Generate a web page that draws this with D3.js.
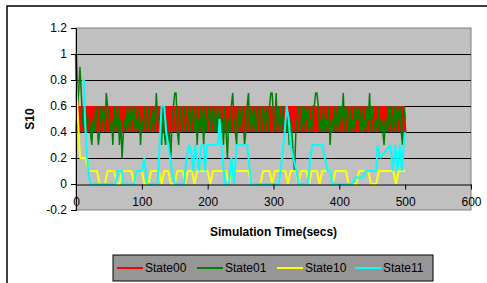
<!DOCTYPE html>
<html>
<head>
<meta charset="utf-8">
<script src="https://cdn.jsdelivr.net/npm/d3@7"></script>
<style>
  body { margin: 0; background: #fff; }
  svg { font-family: "Liberation Sans", Arial, sans-serif; }
</style>
</head>
<body>
<div id="chart"></div>
<script>
// series names + colours
const seriesNames = ['State00', 'State01', 'State10', 'State11'];
const seriesColors = ['#ff0000', '#008000', '#ffff00', '#00ffff'];
const seriesWidths = [2.5, 1.5, 2, 2];

// axis ticks
const xTicks = [0, 100, 200, 300, 400, 500, 600];
const yTicks = [-0.2, 0, 0.2, 0.4, 0.6, 0.8, 1, 1.2];

// State00 and State01 sampled every 2 secs, one char per sample (tenths, 'a' = 1.0)
const state00 = 'a6' +
  '4646464646464646464646464646464646464646464646464646464646464646464646464646464646464646464646464646' +
  '4646464646464646464646464646464646464646464646464646464646464646464646464646464646464646464646464646' +
  '4646464646464646464646464646464646464646464646464';
const state01 =
  '4679754645' + '5435465346' + '5647654536' + '4563524546' + '5465645463' +
  '5465465456' + '4755436435' + '3425677436' + '5465456465' + '4635465364' +
  '5646546456' + '4536425467' + '5436456534' + '6746546456' + '4564654677' +
  '5474654645' + '4535421456' + '5464656454' + '6677645464' + '5463546456' +
  '4657465464' + '5465654645' + '4657465454' + '6454354646' + '5464656436' + '5';

// State10 and State11 as [time, value] vertices
const state10 = [
  [0, .8], [2, .6], [6, .2], [14, .2], [20, .1],
  [32, .1], [36, 0], [44, 0], [48, .1],
  [58, .1], [62, 0], [66, 0], [70, .1],
  [84, .1], [88, 0], [92, .1],
  [100, .1], [104, 0], [110, 0], [114, .1],
  [126, .1], [130, 0], [134, .1],
  [140, .1], [144, 0], [150, 0], [154, .1],
  [162, .1], [166, 0], [170, .1],
  [176, .1], [180, 0], [184, .1],
  [200, .1], [204, 0], [208, .1],
  [228, .1], [232, 0], [236, .1],
  [262, .1], [266, 0], [280, 0], [284, .1],
  [294, .1], [298, 0], [302, .1],
  [318, .1], [322, 0], [326, .1],
  [334, .1], [338, 0], [342, .1],
  [350, .1], [354, 0], [358, .1],
  [366, .1], [370, 0], [374, .1],
  [386, .1], [390, 0], [394, .1],
  [410, .1], [414, 0], [426, 0], [430, .1],
  [444, .1], [448, 0], [456, 0], [460, .1],
  [482, .1], [486, 0], [490, .1], [500, .1]
];
const state11 = [
  [9, .8], [12, .8], [14, .45], [17, .2], [20, .05], [22, 0],
  [60, 0], [64, .1], [70, .1], [72, 0],
  [88, 0], [92, .1], [100, .1], [104, .2], [108, 0],
  [124, 0], [127, .3], [130, .6], [134, .6], [137, .4], [140, .3], [143, .2], [146, .1], [150, 0],
  [164, 0], [168, .2], [172, .3], [175, .25], [178, .1], [181, .3], [184, .2], [187, .1],
  [190, .3], [194, .3], [196, .1], [199, .3], [216, .3], [218, .5], [221, .3], [226, 0],
  [232, 0], [236, .2], [240, 0], [244, .3], [260, .3], [266, 0],
  [308, 0], [313, .2], [317, .4], [320, .6], [323, .5], [326, .3], [330, .2], [335, .1], [338, 0],
  [352, 0], [356, .2], [359, .3], [370, .3], [374, .3], [378, .2], [382, .1], [386, .1], [390, 0],
  [420, 0], [424, .05], [436, .05], [440, .1], [452, .1], [456, .1], [458, .3], [462, .2],
  [470, .25], [478, .3], [481, .1], [485, .3], [488, .1], [492, .3], [495, .1], [498, .3], [500, .4]
];

const config = {
  width: 487,
  height: 283,
  plot: { left: 76, right: 471, top: 28, bottom: 210 }
};

function fromChars(str) {
  return Array.from(str).map((c, i) => [i * 2, c === 'a' ? 1 : +c / 10]);
}

const allSeries = [fromChars(state00), fromChars(state01), state10, state11];

const svg = d3.select('#chart').append('svg')
  .attr('width', config.width)
  .attr('height', config.height);

// outer frame
svg.append('rect')
  .attr('x', 7).attr('y', 6)
  .attr('width', 520).attr('height', 320)
  .attr('fill', '#fff')
  .attr('stroke', '#000')
  .attr('stroke-width', 1.5);

const p = config.plot;
const x = d3.scaleLinear().domain([0, 600]).range([p.left, p.right]);
const y = d3.scaleLinear().domain([-0.2, 1.2]).range([p.bottom, p.top]);

// plot area
svg.append('rect')
  .attr('x', p.left).attr('y', p.top)
  .attr('width', p.right - p.left).attr('height', p.bottom - p.top)
  .attr('fill', '#c0c0c0')
  .attr('stroke', '#808080')
  .attr('stroke-width', 1);

// gridlines
svg.append('g').selectAll('line')
  .data(yTicks.filter(d => d > 0 && d < 1.2))
  .enter().append('line')
  .attr('x1', p.left).attr('x2', p.right)
  .attr('y1', d => Math.round(y(d)) + 0.5).attr('y2', d => Math.round(y(d)) + 0.5)
  .attr('stroke', '#000')
  .attr('stroke-width', 1);

// series lines
const line = d3.line().x(d => x(d[0])).y(d => y(d[1]));
svg.append('g').selectAll('path')
  .data(allSeries)
  .enter().append('path')
  .attr('d', line)
  .attr('fill', 'none')
  .attr('stroke', (d, i) => seriesColors[i])
  .attr('stroke-width', (d, i) => seriesWidths[i])
  .attr('stroke-linejoin', 'bevel');

// y axis
const yAxis = svg.append('g')
  .attr('transform', `translate(${p.left},0)`)
  .call(d3.axisLeft(y).tickValues(yTicks).tickSize(5).tickPadding(4)
    .tickFormat(d => String(+d.toFixed(1))));
yAxis.selectAll('text').attr('font-size', 12).attr('fill', '#000').attr('font-family', null);

// x axis at y = 0
const xAxis = svg.append('g')
  .attr('transform', `translate(0,${Math.round(y(0)) + 0.5})`)
  .call(d3.axisBottom(x).tickValues(xTicks).tickSize(5).tickPadding(8).tickSizeOuter(0));
xAxis.selectAll('text').attr('font-size', 12).attr('fill', '#000').attr('font-family', null);
svg.selectAll('.domain, .tick line').attr('stroke', '#000');

// axis titles
svg.append('text')
  .attr('transform', `translate(34,${(p.top + p.bottom) / 2}) rotate(-90)`)
  .attr('text-anchor', 'middle')
  .attr('font-size', 12)
  .attr('font-weight', 'bold')
  .text('S10');

svg.append('text')
  .attr('x', (p.left + p.right) / 2)
  .attr('y', 236)
  .attr('text-anchor', 'middle')
  .attr('font-size', 12)
  .attr('font-weight', 'bold')
  .text('Simulation Time(secs)');

// legend
const legend = svg.append('g');
legend.append('rect')
  .attr('x', 113).attr('y', 255)
  .attr('width', 320).attr('height', 26)
  .attr('fill', '#969696')
  .attr('stroke', '#000')
  .attr('stroke-width', 1);

const itemX = [117, 197, 277, 355];
const items = legend.selectAll('g.item')
  .data(seriesNames)
  .enter().append('g')
  .attr('transform', (d, i) => `translate(${itemX[i]},268)`);
items.append('line')
  .attr('x1', 0).attr('x2', 26)
  .attr('stroke', (d, i) => seriesColors[i])
  .attr('stroke-width', 2);
items.append('text')
  .attr('x', 28).attr('dy', '0.35em')
  .attr('font-size', 12)
  .text(d => d);
</script>
</body>
</html>
